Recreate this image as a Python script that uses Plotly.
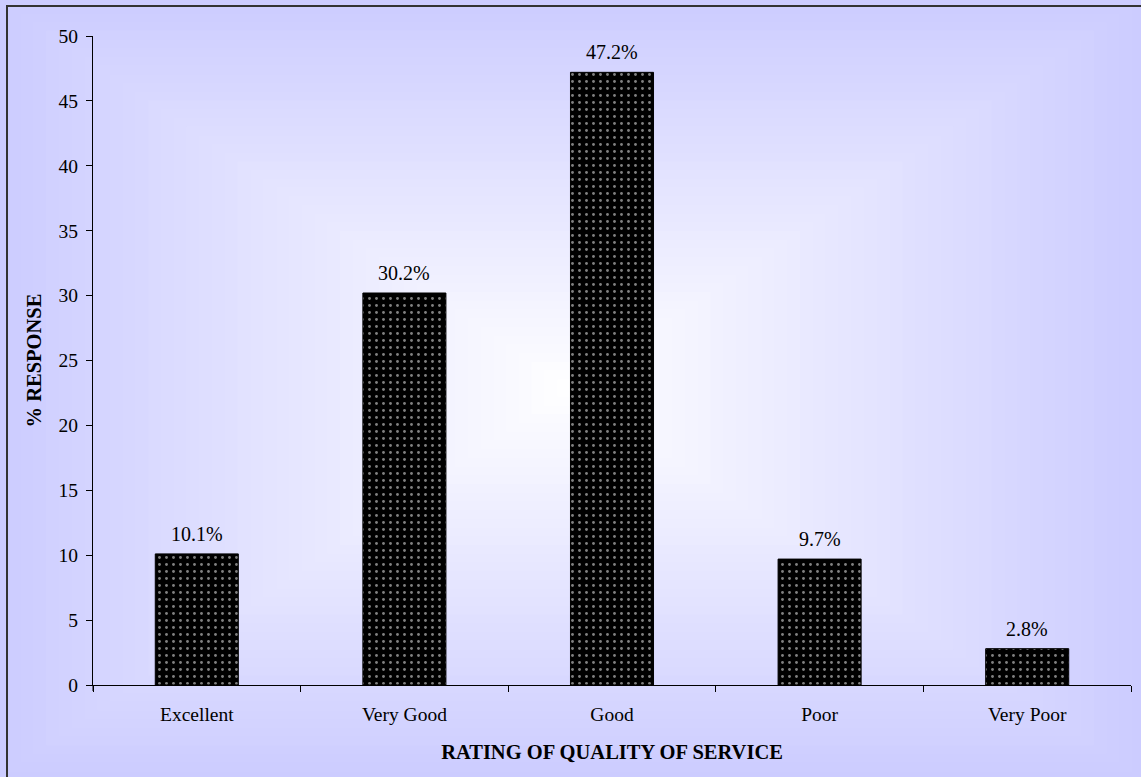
import plotly.graph_objects as go

categories = ["Excellent", "Very Good", "Good", "Poor", "Very Poor"]
responses = [10.1, 30.2, 47.2, 9.7, 2.8]
y_ticks = [0, 5, 10, 15, 20, 25, 30, 35, 40, 45, 50]

W, H = 1141, 777
L, R, T, B = 93, 10, 36, 92
PW, PH = W - L - R, H - T - B


def px(x):
    return (x - L) / PW


def py(y):
    return (H - B - y) / PH


fig = go.Figure()
fig.add_trace(go.Bar(
    x=categories, y=responses,
    marker=dict(color="black", line=dict(color="black", width=1),
                pattern=dict(shape=".", fgcolor="white", bgcolor="black",
                             size=7, solidity=0.13)),
    showlegend=False, hoverinfo="skip",
))

for c, v in zip(categories, responses):
    fig.add_annotation(x=c, y=v, text="%.1f%%" % v, showarrow=False,
                       yanchor="middle", yshift=20,
                       font=dict(family="Liberation Serif", size=20, color="black"))

# rectangular "from centre" gradient background
shapes = []
N = 45
cx, cy = 570, 388
hx, hy = 575, 392
edge = (204, 204, 255)
for i in range(N):
    t = 1 - i / N
    f = i / N
    col = tuple(round(e + (255 - e) * f) for e in edge)
    shapes.append(dict(type="rect", xref="paper", yref="paper",
                       x0=px(cx - hx * t), x1=px(cx + hx * t),
                       y0=py(cy + hy * t), y1=py(cy - hy * t),
                       fillcolor="rgb(%d,%d,%d)" % col, line=dict(width=0),
                       layer="below"))
# small extension of the y axis line below the x axis
shapes.append(dict(type="line", xref="paper", yref="paper", x0=0, x1=0,
                   y0=py(691), y1=0, line=dict(color="black", width=1)))
# outer frame (left/top visible)
shapes.append(dict(type="rect", xref="paper", yref="paper",
                   x0=px(7), x1=px(1160), y0=py(790), y1=py(6),
                   line=dict(color="#333333", width=2), fillcolor="rgba(0,0,0,0)",
                   layer="above"))

fig.update_layout(
    width=W, height=H,
    margin=dict(l=L, r=R, t=T, b=B),
    paper_bgcolor="rgb(204,204,255)",
    plot_bgcolor="rgba(0,0,0,0)",
    font=dict(family="Liberation Serif", size=19.5, color="black"),
    bargap=0.6,
    shapes=shapes,
    xaxis=dict(showline=True, linecolor="black", linewidth=1,
               ticks="outside", tickson="boundaries", ticklen=6, tickcolor="black",
               ticklabelstandoff=12, showgrid=False,
               title=dict(text="<b>RATING OF QUALITY OF SERVICE</b>", standoff=20,
                          font=dict(size=20.5))),
    yaxis=dict(range=[0, 50], tickvals=y_ticks, showline=True, linecolor="black",
               linewidth=1, ticks="outside", ticklen=6, tickcolor="black",
               ticklabelstandoff=4, showgrid=False, zeroline=False,
               title=dict(text="<b>% RESPONSE</b>", standoff=11, font=dict(size=20.5))),
)

fig.write_html("out.html")
